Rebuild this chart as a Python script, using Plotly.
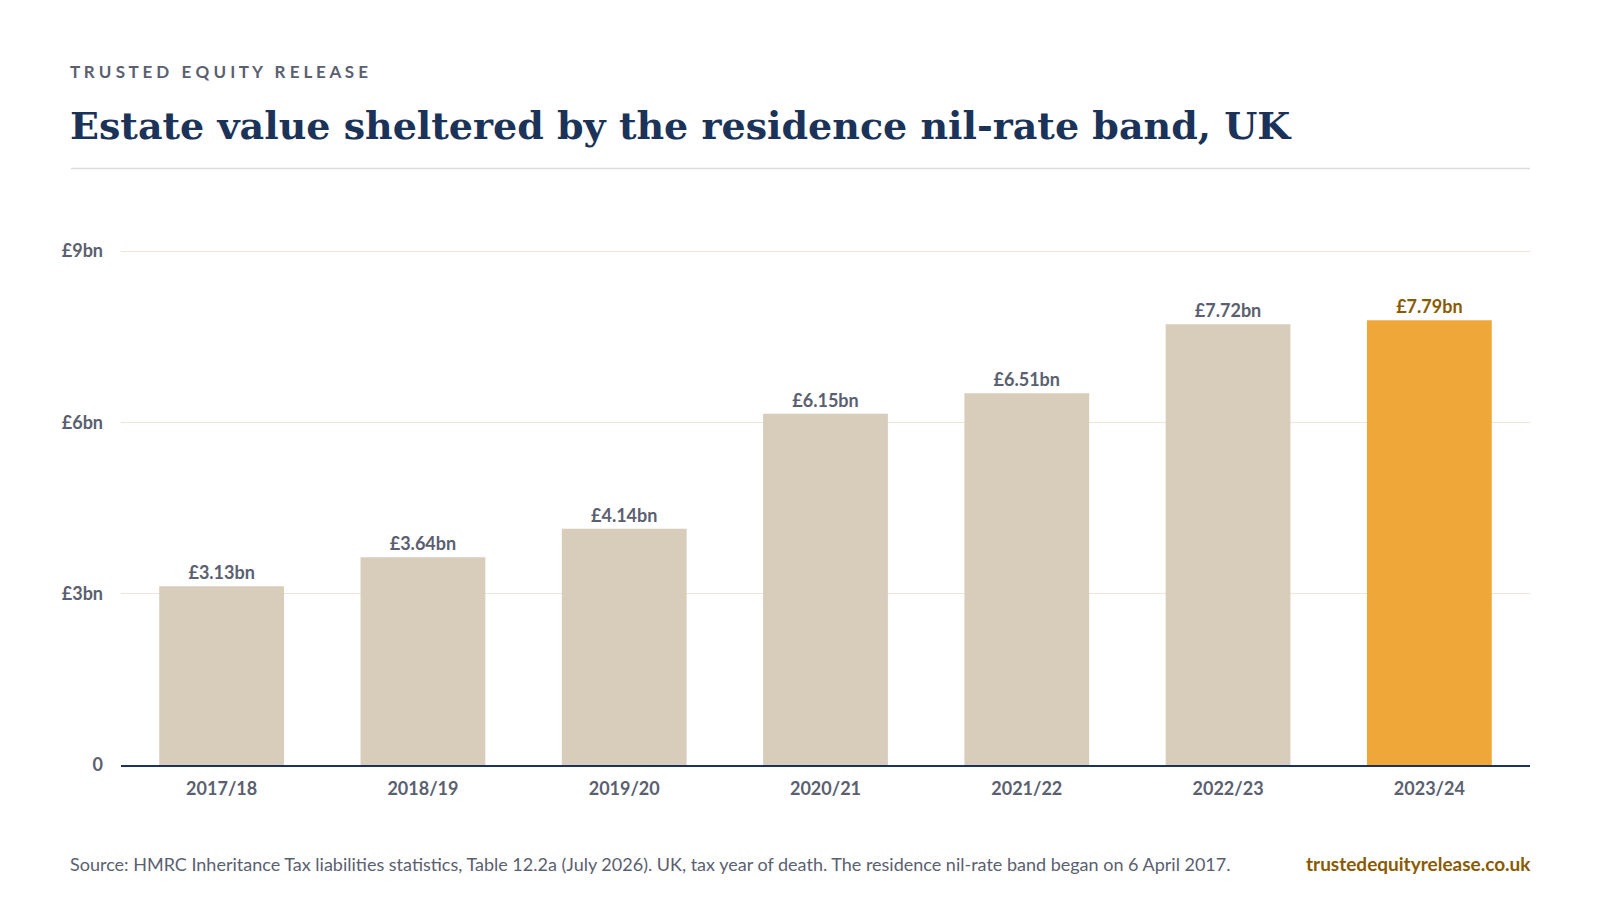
import plotly.graph_objects as go

years = ["2017/18", "2018/19", "2019/20", "2020/21", "2021/22", "2022/23", "2023/24"]
values = [3.13, 3.64, 4.14, 6.15, 6.51, 7.72, 7.79]
tick_vals = [0, 3, 6, 9]
tick_text = ["0", "£3bn", "£6bn", "£9bn"]

NAVY = "#1b3358"
GREY = "#5a6070"
BAR = "#d8ccbb"
HIGHLIGHT = "#f0a73a"
BRAND = "#8a5a00"

colors = [BAR] * (len(years) - 1) + [HIGHLIGHT]
label_colors = [GREY] * (len(years) - 1) + [BRAND]

# reference pixel -> page pixel
def c(v):
    return (v - 7) / 0.98

L, R, T, B = c(118), c(1499), c(244), c(749)

fig = go.Figure(go.Bar(
    x=years, y=values, marker_color=colors, marker_line_width=0,
    text=[f"<b>£{v:.2f}bn</b>" for v in values], textposition="outside",
    textfont=dict(family="Lato", size=18, color=label_colors),
    cliponaxis=False, width=0.62,
))

fig.update_layout(
    width=1600, height=900,
    paper_bgcolor="white", plot_bgcolor="white",
    margin=dict(l=L, r=1600 - R, t=T, b=900 - B, autoexpand=False),
    showlegend=False,
    font=dict(family="Lato", color=GREY),
    xaxis=dict(tickfont=dict(size=18, color=GREY, weight="bold"), showline=True, linecolor=NAVY,
               linewidth=2, ticks="", fixedrange=True, ticklabelstandoff=6),
    yaxis=dict(range=[0, 9.02], tickvals=tick_vals, ticktext=tick_text,
               tickfont=dict(size=18, color=GREY, weight="bold"), gridcolor="#ebe5da",
               zeroline=False, ticks="", ticklabelstandoff=17),
)

pw = R - L
ph = B - T
def px(x): return (c(x) - L) / pw
def py(y): return (B - c(y)) / ph

fig.add_annotation(text="<b>T R U S T E D  E Q U I T Y  R E L E A S E</b>".replace("  ", "   "),
                   x=px(69), y=py(69), xref="paper", yref="paper",
                   xanchor="left", yanchor="middle", showarrow=False, xshift=-3,
                   font=dict(family="Lato", size=17, color=GREY))
fig.add_annotation(text="<b>Estate value sheltered by the residence nil-rate band, UK</b>",
                   x=px(69), y=py(122), xref="paper", yref="paper",
                   xanchor="left", yanchor="middle", showarrow=False, xshift=-3,
                   font=dict(family="DejaVu Serif", size=38, color=NAVY))
fig.add_shape(type="line", xref="paper", yref="paper", x0=px(69), x1=1, y0=py(164), y1=py(164),
              line=dict(color="#dcdcdc", width=1.5))
fig.add_annotation(text="Source: HMRC Inheritance Tax liabilities statistics, Table 12.2a (July 2026). UK, tax year of death. The residence nil-rate band began on 6 April 2017.",
                   x=px(69), y=py(846), xref="paper", yref="paper",
                   xanchor="left", yanchor="middle", showarrow=False, xshift=-3,
                   font=dict(family="Lato", size=18, color=GREY))
fig.add_annotation(text="<b>trustedequityrelease.co.uk</b>", x=1, y=py(846), xref="paper", yref="paper",
                   xanchor="right", yanchor="middle", showarrow=False, xshift=3,
                   font=dict(family="Lato", size=19, color=BRAND))

fig.write_html("out.html")
